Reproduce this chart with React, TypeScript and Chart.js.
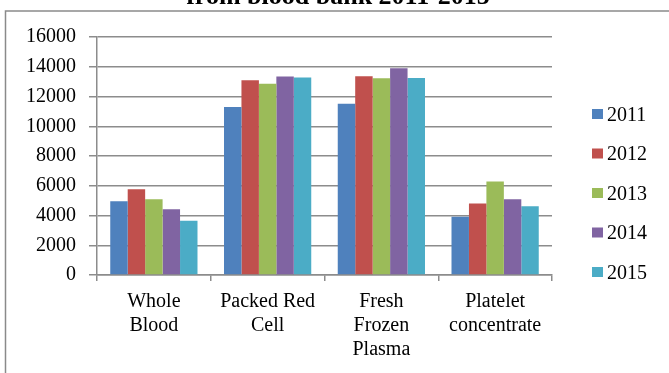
import React, { useEffect, useRef } from 'react';
import { Chart, registerables } from 'chart.js';

Chart.register(...registerables);

const categories: string[][] = [
  ['Whole', 'Blood'],
  ['Packed Red', 'Cell'],
  ['Fresh', 'Frozen', 'Plasma'],
  ['Platelet', 'concentrate'],
];
const years = ['2011', '2012', '2013', '2014', '2015'];
const values2011 = [4950, 11300, 11520, 3920];
const values2012 = [5760, 13100, 13360, 4800];
const values2013 = [5100, 12850, 13220, 6280];
const values2014 = [4420, 13350, 13900, 5090];
const values2015 = [3640, 13270, 13250, 4620];
const seriesValues = [values2011, values2012, values2013, values2014, values2015];
const colors = ['#4F81BD', '#C0504D', '#9BBB59', '#8064A2', '#4BACC6'];
const titleText = 'from blood bank 2011-2015';
const yMin = 0;
const yMax = 16000;
const yStep = 2000;

const FONT = '"Liberation Serif", "Times New Roman", serif';
const GRID = '#8c8c8c';

const framePlugin = {
  id: 'frameAndTitle',
  beforeDraw(chart: any) {
    const ctx = chart.ctx;
    ctx.save();
    ctx.strokeStyle = '#8a8a8a';
    ctx.lineWidth = 1.5;
    ctx.strokeRect(5.5, 11, 700, 400);
    ctx.fillStyle = '#000';
    ctx.font = `bold 26px ${FONT}`;
    ctx.textAlign = 'center';
    ctx.textBaseline = 'alphabetic';
    ctx.fillText(titleText, 338, 3.5);
    ctx.restore();
  },
};

const legendPlugin = {
  id: 'sideLegend',
  afterDraw(chart: any) {
    const ctx = chart.ctx;
    ctx.save();
    ctx.font = `20px ${FONT}`;
    ctx.textAlign = 'left';
    ctx.textBaseline = 'alphabetic';
    chart.data.datasets.forEach((ds: any, i: number) => {
      const cy = 114 + i * 39.5;
      ctx.fillStyle = ds.backgroundColor;
      ctx.fillRect(592, cy - 5, 11, 10);
      ctx.fillStyle = '#000';
      ctx.fillText(ds.label, 607, cy + 6.6);
    });
    ctx.restore();
  },
};

export default function App() {
  const ref = useRef<HTMLCanvasElement | null>(null);
  useEffect(() => {
    if (!ref.current) return;
    const chart = new Chart(ref.current, {
      type: 'bar',
      data: {
        labels: categories,
        datasets: years.map((y, i) => ({
          label: y,
          data: seriesValues[i],
          backgroundColor: colors[i],
          borderWidth: 0,
          categoryPercentage: 0.767,
          barPercentage: 1,
        })),
      },
      options: {
        responsive: false,
        animation: false,
        layout: { padding: { top: 37, right: 117, left: 0, bottom: 0 } },
        plugins: {
          legend: { display: false },
          title: { display: false },
          tooltip: { enabled: false },
        },
        scales: {
          x: {
            offset: true,
            grid: {
              display: true,
              drawOnChartArea: false,
              drawTicks: true,
              tickLength: 6,
              color: GRID,
              lineWidth: 1.5,
              offset: true,
            },
            border: { display: true, color: GRID, width: 1.5 },
            ticks: {
              color: '#000',
              font: { family: FONT, size: 20, lineHeight: 1.2 },
              padding: 9,
              maxRotation: 0,
              autoSkip: false,
            },
            afterFit: (axis: any) => {
              axis.height = 98;
            },
          },
          y: {
            min: yMin,
            max: yMax,
            grid: {
              color: GRID,
              lineWidth: 1.5,
              tickLength: 8,
              drawTicks: true,
            },
            border: { display: true, color: GRID, width: 1.5 },
            ticks: {
              stepSize: yStep,
              color: '#000',
              font: { family: FONT, size: 20 },
              padding: 13,
              callback: (v: any) => String(v),
            },
            afterFit: (axis: any) => {
              axis.width = 97;
            },
          },
        },
      },
      plugins: [framePlugin, legendPlugin],
    });
    return () => chart.destroy();
  }, []);
  return (
    <div style={{ position: 'fixed', left: 0, top: 0, width: 669, height: 373, background: '#fff' }}>
      <canvas ref={ref} width={669} height={373} style={{ display: 'block' }} />
    </div>
  );
}
